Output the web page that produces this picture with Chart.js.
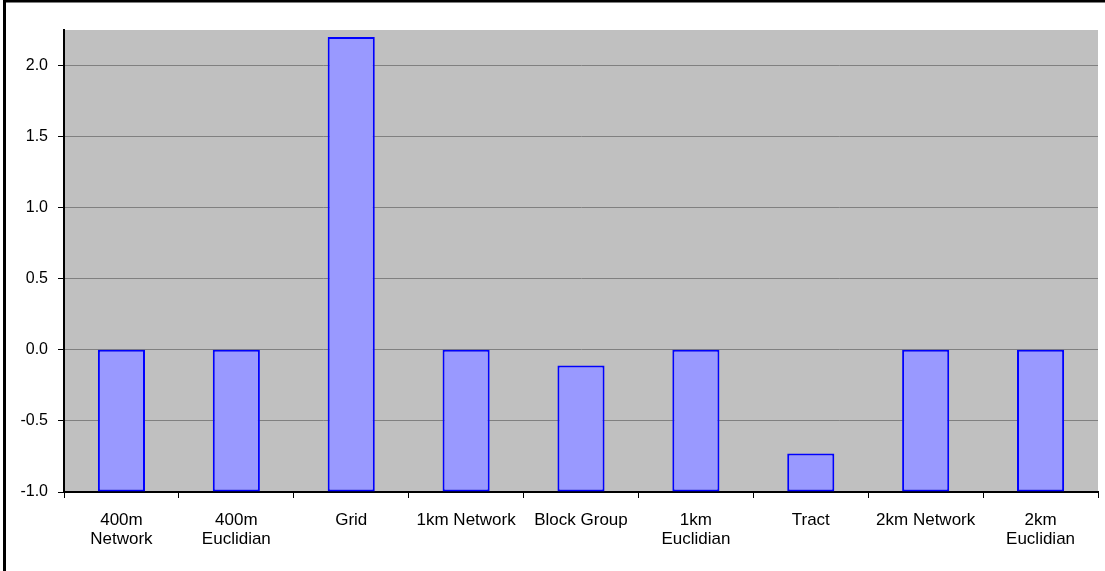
<!DOCTYPE html>
<html>
<head>
<meta charset="utf-8">
<script src="https://cdn.jsdelivr.net/npm/chart.js@4/dist/chart.umd.min.js"></script>
<style>
html,body{margin:0;padding:0;background:#fff;}
#wrap{width:1105px;height:571px;position:relative;}
</style>
</head>
<body>
<div id="wrap"><canvas id="c" width="1105" height="571"></canvas></div>
<script>
const categories = [["400m","Network"],["400m","Euclidian"],"Grid","1km Network","Block Group",["1km","Euclidian"],"Tract","2km Network",["2km","Euclidian"]];
const values = [0.0, 0.0, 2.2, 0.0, -0.11, 0.0, -0.73, 0.0, 0.0];
const axisBase = -1.0;
const yMin = -1.0, yMax = 2.25, yStep = 0.5;

const framePlugin = {
  id: 'frame',
  beforeDraw(chart) {
    const {ctx, chartArea: a} = chart;
    ctx.save();
    ctx.fillStyle = '#C0C0C0';
    ctx.fillRect(a.left, a.top, a.right - a.left, a.bottom - a.top);
    ctx.restore();
  },
  afterDraw(chart) {
    const ctx = chart.ctx;
    ctx.save();
    ctx.strokeStyle = '#000';
    ctx.lineWidth = 3;
    ctx.strokeRect(4.5, 1, 1300, 800);
    ctx.restore();
  }
};

new Chart(document.getElementById('c'), {
  type: 'bar',
  data: {
    labels: categories,
    datasets: [{
      data: values,
      base: axisBase,
      backgroundColor: '#9999FF',
      borderColor: '#0000FF',
      borderWidth: 2,
      borderSkipped: false,
      barPercentage: 0.41,
      categoryPercentage: 1.0
    }]
  },
  options: {
    responsive: false,
    animation: false,
    devicePixelRatio: 1,
    layout: { padding: { top: 30, right: 7, left: 0, bottom: 0 } },
    plugins: { legend: { display: false }, tooltip: { enabled: false } },
    scales: {
      x: {
        grid: { display: true, offset: true, drawOnChartArea: false, drawTicks: true, tickLength: 6, color: '#000', lineWidth: 1 },
        border: { display: true, color: '#000', width: 2 },
        ticks: { color: '#000', font: { family: 'Liberation Sans, Arial', size: 17, lineHeight: 1.12 }, maxRotation: 0, autoSkip: false, padding: 13 },
        afterFit(scale) { scale.height = 79; }
      },
      y: {
        min: yMin, max: yMax,
        ticks: { stepSize: yStep, color: '#000', font: { family: 'Liberation Sans, Arial', size: 16 }, padding: 10,
          callback: v => v.toFixed(1) },
        afterBuildTicks(scale) { scale.ticks = scale.ticks.filter(t => t.value <= 2.0001); },
        grid: { color: '#808080', lineWidth: 1, drawTicks: true, tickLength: 6, tickColor: '#000' },
        border: { display: true, color: '#000', width: 2 },
        afterFit(scale) { scale.width = 64; }
      }
    }
  },
  plugins: [framePlugin]
});
</script>
</body>
</html>
